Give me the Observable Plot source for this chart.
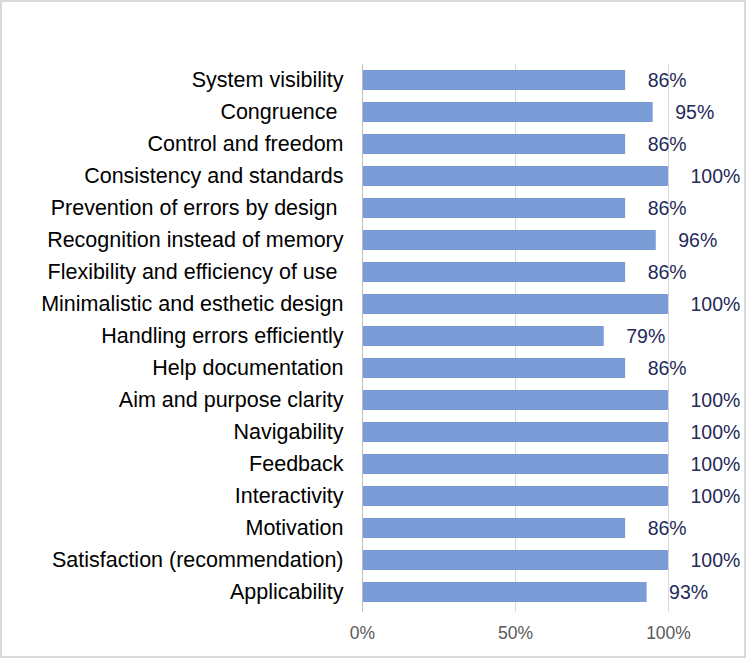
<!DOCTYPE html>
<html>
<head>
<meta charset="utf-8">
<script src="https://cdn.jsdelivr.net/npm/d3@7"></script>
<script src="https://cdn.jsdelivr.net/npm/@observablehq/plot@0.6"></script>
<style>
  body { margin: 0; background: #fff; }
  #chart svg { display: block; outline: 2px solid #d9d9d9; outline-offset: -2px; }
</style>
</head>
<body>
<div id="chart"></div>
<script>
const categories = [
  "System visibility", "Congruence ", "Control and freedom", "Consistency and standards",
  "Prevention of errors by design ", "Recognition instead of memory", "Flexibility and efficiency of use ",
  "Minimalistic and esthetic design", "Handling errors efficiently", "Help documentation",
  "Aim and purpose clarity", "Navigability", "Feedback", "Interactivity", "Motivation",
  "Satisfaction (recommendation)", "Applicability"
];
const values = [86, 95, 86, 100, 86, 96, 86, 100, 79, 86, 100, 100, 100, 100, 86, 100, 93];
const xTicks = [0, 50, 100];

const data = categories.map((c, i) => ({category: c, value: values[i]}));

const chart = Plot.plot({
  width: 746,
  height: 658,
  marginLeft: 362,
  marginRight: 78,
  marginTop: 58,
  marginBottom: 43,
  style: {fontFamily: "Liberation Sans, Arial, sans-serif", background: "#fff"},
  x: {domain: [0, 100], ticks: xTicks, tickFormat: d => d + "%", label: null},
  y: {domain: categories, padding: 0.37, label: null},
  marks: [
    Plot.ruleX(xTicks.slice(1), {stroke: "#d9d9d9", strokeWidth: 1, insetTop: 6, insetBottom: 3}),
    Plot.barX(data, {x: "value", y: "category", fill: "#7a9dd8"}),
    Plot.ruleX([0], {stroke: "#bfbfbf", strokeWidth: 1, insetTop: 6, insetBottom: 3}),
    Plot.axisX({ticks: xTicks, tickFormat: d => d + "%", tickSize: 0, tickPadding: 11, fontSize: 17.5, color: "#595959", label: null}),
    Plot.axisY({tickSize: 0, tickPadding: 19, fontSize: 21.5, color: "#000", label: null}),
    Plot.text(data, {x: "value", y: "category", text: d => d.value + "%", textAnchor: "start", dx: 22, fontSize: 19.5, fill: "#1f2a5a"})
  ]
});
document.getElementById("chart").append(chart);
</script>
</body>
</html>
